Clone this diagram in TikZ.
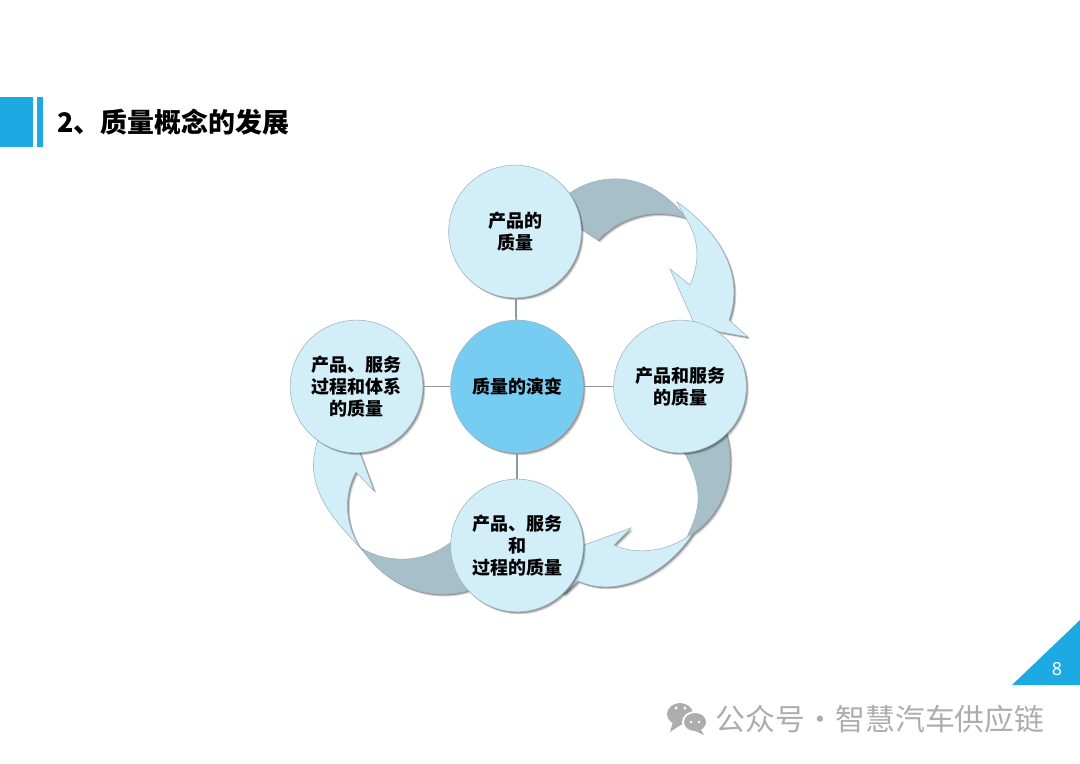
\documentclass[tikz,border=0pt]{standalone}
\usepackage{fontspec}
\usepackage{xcolor}
\setmainfont{Noto Sans CJK SC}
\newfontfamily\numfont{Noto Sans}
\usetikzlibrary{shadows}
\definecolor{accent}{HTML}{1DA9E1}
\definecolor{pale}{HTML}{D2EEF9}
\definecolor{core}{HTML}{77CCF1}
\definecolor{band}{HTML}{A6BFC9}
\definecolor{edge}{HTML}{9FB2BA}
\definecolor{spokec}{HTML}{8C9AA0}
\definecolor{wmgray}{HTML}{ADADAD}
\tikzset{
  soft/.style={general shadow={shadow xshift=1.8pt,shadow yshift=-1.8pt,fill=black,opacity=0.18},
    general shadow={shadow xshift=1.0pt,shadow yshift=-1.0pt,fill=black,opacity=0.28}},
  circ/.style={circle, minimum size=99.5pt, inner sep=0pt, align=center, fill=pale, draw=edge, line width=0.4pt, soft,
    font=\fontsize{13.5}{16.3}\selectfont\bfseries},
  corec/.style={circ, fill=core},
  sweep/.style={fill=pale, draw=edge, line width=0.4pt, line join=miter, soft},
  sweepd/.style={fill=band, draw=edge, line width=0.4pt, line join=miter, soft},
  spoke/.style={draw=spokec, line width=1.3pt},
  bar/.style={fill=accent}
}
\begin{document}
\begin{tikzpicture}[x=0.75pt,y=-0.75pt]
  \useasboundingbox (0,0) rectangle (1080,763);
  \fill[white] (0,0) rectangle (1080,763);
  % title
  \fill[bar] (0,97) rectangle (33,147);
  \fill[bar] (37,97) rectangle (43,147);
  \node[anchor=west,inner sep=0pt,font=\fontsize{20.2}{24}\selectfont\bfseries] (title) at (57,122) {2、质量概念的发展};
  % dark bands
  \path[sweepd] (570,193) .. controls (600,172) and (650,170) .. (686,218)
    .. controls (655,208) and (622,215) .. (598,240) -- (575,225) -- cycle;
  \path[sweepd] (725,430) .. controls (737,465) and (728,510) .. (692,534) -- (687,537)
    .. controls (700,510) and (705,490) .. (683,450) -- cycle;
  \path[sweepd] (361,548) .. controls (385,585) and (430,605) .. (475,588) -- (460,535) -- (450,543)
    .. controls (425,562) and (390,565) .. (361,548) -- cycle;
  % light arrows
  \path[sweep] (677,202) .. controls (720,232) and (745,275) .. (729,320)
    -- (748,337) -- (720,332) -- (693,321) -- (670,269) -- (690,285)
    .. controls (700,262) and (700,240) .. (685,217) -- cycle;
  \path[sweep] (693,533) .. controls (670,570) and (620,600) .. (578,581)
    -- (563,595) -- (570,560) -- (584,545) -- (631,528) -- (614,545)
    .. controls (635,555) and (665,552) .. (687,537) -- cycle;
  \path[sweep] (362,550) .. controls (340,525) and (300,490) .. (318,440)
    -- (345,430) -- (360,453) -- (374,491) -- (356,472)
    .. controls (343,495) and (345,525) .. (360,547) -- cycle;
  % circles
  \node[circ] (top) at (515,231.5) {产品的\\质量};
  \node[circ] (right) at (680,386.5) {产品和服务\\的质量};
  \node[circ] (bottom) at (517,545.5) {产品、服务\\和\\过程的质量};
  \node[circ] (left) at (356.5,386.5) {产品、服务\\过程和体系\\的质量};
  \node[corec] (center) at (517,386.5) {质量的演变};
  \draw[spoke] (center) -- (top);
  \draw[spoke] (center) -- (right);
  \draw[spoke] (center) -- (bottom);
  \draw[spoke] (center) -- (left);
  % page number
  \fill[bar] (1012,685) -- (1080,685) -- (1080,620) -- cycle;
  \node[text=white,inner sep=0pt,font=\numfont\fontsize{13.5}{15}\selectfont] (page) at (1057,669) {8};
  % watermark
  \fill[wmgray] (680,714) ellipse (13 and 11);
  \fill[wmgray] (673,722) -- (670,732) -- (682,724) -- cycle;
  \fill[white] (695,722) ellipse (13 and 11);
  \fill[wmgray] (695,722) ellipse (11 and 9);
  \fill[wmgray] (700,728) -- (704,735) -- (693,730) -- cycle;
  \fill[white] (676,708) circle (1.6) (685,708) circle (1.6) (691,722) circle (1.4) (699,722) circle (1.4);
  \node[anchor=west,inner sep=0pt,text=wmgray,font=\fontsize{22.4}{26}\selectfont] (wm) at (715,719) {公众号\makebox[23pt]{·}智慧汽车供应链};
\end{tikzpicture}
\end{document}
